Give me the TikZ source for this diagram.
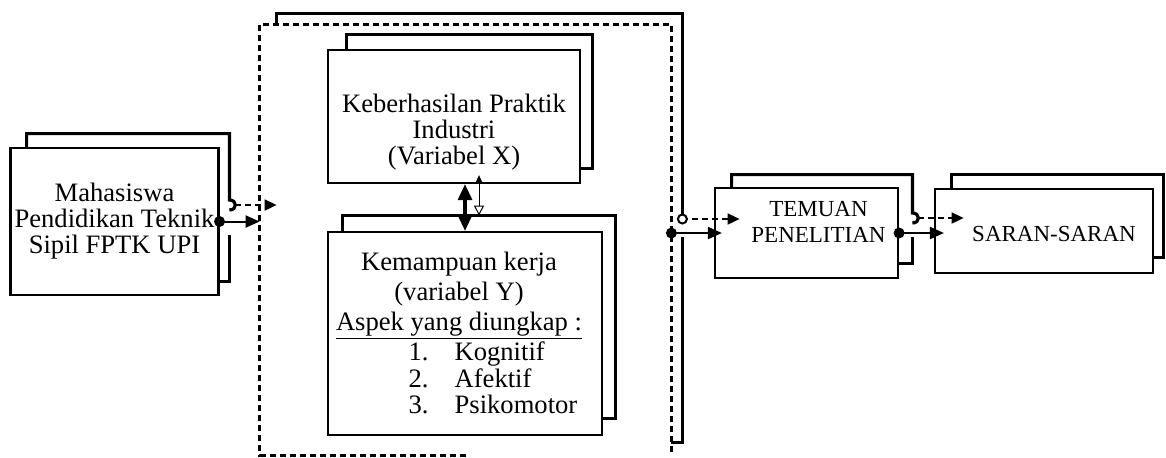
\documentclass[tikz,border=0pt]{standalone}
\usepackage{fontspec}
\setmainfont{Liberation Serif}
\usetikzlibrary{arrows.meta,positioning,calc}
\newcommand{\boxfont}{\fontsize{13.3}{13}\selectfont}
\newcommand{\capfont}{\fontsize{11.5}{13}\selectfont}

\begin{document}
\begin{tikzpicture}[x=0.5pt,y=-0.5pt,
    box/.style={draw,line width=1.1pt,fill=white,inner sep=2pt,align=center,font=\boxfont},
    shadow/.style={inner sep=0pt},
    backline/.style={line width=1.6pt},
    dashframe/.style={line width=1.2pt,dash pattern=on 3pt off 2pt},
    solidarr/.style={-{Triangle[length=7pt,width=6pt]},line width=1pt},
    dasharr/.style={-{Triangle[length=6pt,width=5.5pt]},line width=0.9pt,dash pattern=on 3pt off 2pt},
    dot/.style={circle,fill,inner sep=0pt,minimum size=5.5pt},
    ring/.style={circle,draw,fill=white,line width=1pt,inner sep=0pt,minimum size=4.5pt}]
    \useasboundingbox (0,0) rectangle (1166,457);

    % 外框与各框的阴影（只作定位）
    \node[shadow,minimum width=202.5pt,minimum height=214pt] (frameB) at (479.5,228) {};
    \node[shadow,minimum width=205.5pt,minimum height=215pt] (frame) at (465.5,240) {};
    \node[shadow,minimum width=101pt,minimum height=73.5pt] (mhsB) at (128,207.5) {};
    \node[shadow,minimum width=122.5pt,minimum height=66.5pt] (varxB) at (469.5,101.5) {};
    \node[shadow,minimum width=136pt,minimum height=101pt] (varyB) at (479,317) {};
    \node[shadow,minimum width=90pt,minimum height=44pt] (temB) at (822,219) {};
    \node[shadow,minimum width=105.5pt,minimum height=41pt] (saranB) at (1057.5,216) {};

    % 前景方框
    \node[box,minimum width=103.5pt,minimum height=73.5pt] (mhs) at (114.5,221.5)
        {Mahasiswa\\Pendidikan Teknik\\Sipil FPTK UPI};
    \node[box,minimum width=126pt,minimum height=66.5pt] (varx) at (454,116.5) {};
    \node[font=\boxfont,align=center] (varxT) at ($(varx)+(0,16)$)
        {Keberhasilan Praktik\\Industri\\(Variabel X)};
    \node[box,minimum width=137pt,minimum height=101.5pt] (vary) at (465,333.5) {};
    \node[font=\boxfont,align=center] (varyT) at ($(vary)+(-6,3)$)
        {Kemampuan kerja\\[2pt] (variabel Y)\\[2pt] \underline{Aspek yang diungkap :}\\
        \hspace*{34pt}\begin{tabular}{@{}l@{\hspace{13pt}}l@{}}1. & Kognitif\\ 2. & Afektif\\ 3. & Psikomotor\end{tabular}};
    \node[box,minimum width=91.5pt,minimum height=45pt] (tem) at (806.5,233) {};
    \node[font=\capfont,align=center] (temT) at ($(tem)+(12,-11)$) {TEMUAN\\PENELITIAN};
    \node[box,minimum width=109pt,minimum height=42pt] (saran) at (1044,231) {};
    \node[font=\capfont] (saranT) at ($(saran)+(10,3)$) {SARAN-SARAN};

    % 阴影边线
    \draw[backline] (frameB.north west |- frame.north) -- (frameB.north west) -- (frameB.north east) -- (frameB.east |- temB.west);
    \draw[backline] ($(frameB.east |- tem.west)+(0,4)$) -- (frameB.south east) -- (frameB.south east -| frame.east);
    \draw[dashframe] (frame.south) -- (frame.south west) -- (frame.north west) -- (frame.north east) -- (frame.south east);
    \draw[backline] (mhsB.north west |- mhs.north) -- (mhsB.north west) -- (mhsB.north east) -- ($(mhsB.east)+(0,-7.5)$)
        .. controls +(8,0) and +(8,0) .. ($(mhsB.east)+(0,2.5)$);
    \draw[backline] ($(mhsB.east)+(0,27.5)$) -- (mhsB.south east) -- (mhsB.south east -| mhs.east);
    \draw[backline] (varxB.north west |- varx.north) -- (varxB.north west) -- (varxB.north east) -- (varxB.south east) -- (varxB.south east -| varx.east);
    \draw[backline] (varyB.north west |- vary.north) -- (varyB.north west) -- (varyB.north east) -- (varyB.south east) -- (varyB.south east -| vary.east);
    \draw[backline] (temB.north west |- tem.north) -- (temB.north west) -- (temB.north east) -- ($(temB.east)+(0,-6)$)
        .. controls +(8,0) and +(8,0) .. ($(temB.east)+(0,4)$);
    \draw[backline] ($(temB.east)+(0,18)$) -- (temB.south east) -- (temB.south east -| tem.east);
    \draw[backline] (saranB.north west |- saran.north) -- (saranB.north west) -- (saranB.north east) -- (saranB.south east) -- (saranB.south east -| saran.east);

    % 实线箭头（前框之间）
    \draw[solidarr] (mhs.east) -- (mhs.east -| frame.west);
    \draw[solidarr] (frame.east |- tem.west) -- ($(tem.west)+(8,0)$);
    \draw[solidarr] (tem.east) -- ($(tem.east -| saran.west)+(10,0)$);
    \node[dot] (d1) at (mhs.east) {};
    \node[dot] (d2) at (frame.east |- tem.west) {};
    \node[dot] (d3) at (tem.east) {};

    % 虚线箭头（阴影之间）
    \draw[dasharr] ($(mhsB.east)+(6,-2.5)$) -- ($(mhsB.east -| frameB.west)+(0,-2.5)$);
    \draw[dasharr] (frameB.east |- temB.west) -- ($(temB.west)+(8,0)$);
    \draw[dasharr] ($(temB.east)+(6,-1)$) -- ($(temB.east -| saranB.west)+(12,-1)$);
    \node[ring] (r1) at (frameB.east |- temB.west) {};

    % 变量 X 与 Y 之间
    \draw[{Triangle[length=8pt,width=7pt]}-{Triangle[length=8pt,width=7pt]},line width=1.6pt] (vary.north |- varx.south) -- (vary.north);
    \draw[{Triangle[length=4pt,width=3.5pt]}-{Triangle[open,length=5pt,width=5pt]},line width=0.5pt]
        ($(varyB.north |- varx.south)+(0,-9)$) -- (varyB.north);
\end{tikzpicture}
\end{document}
